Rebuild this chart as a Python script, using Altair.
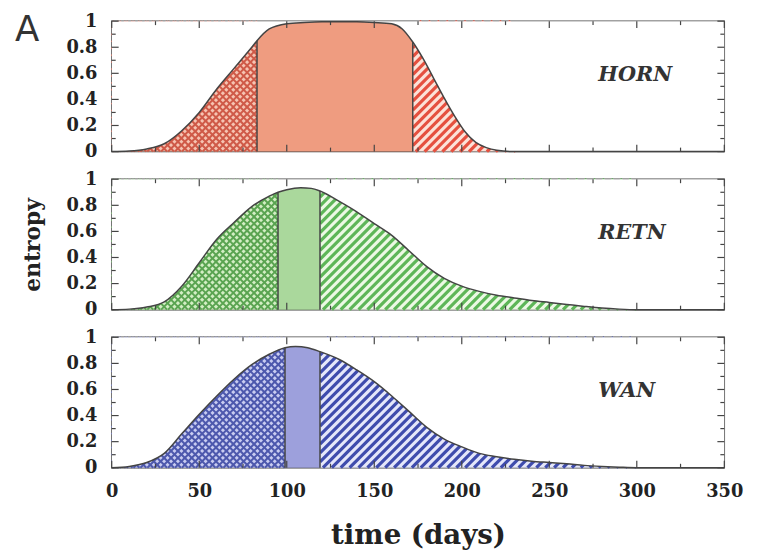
import altair as alt
import pandas as pd

# ---------------- data ----------------
HORN_DAYS = [0, 10, 20, 30, 40, 50, 60, 70, 80, 83, 90, 100, 110, 120, 130, 140, 150, 160, 166, 172, 178, 184, 190, 196, 202, 208, 214, 220, 230, 350]
HORN_VALS = [0.0, 0.004, 0.02, 0.06, 0.16, 0.30, 0.48, 0.64, 0.80, 0.85, 0.94, 0.98, 0.99, 0.995, 0.995, 0.995, 0.99, 0.98, 0.94, 0.84, 0.71, 0.56, 0.41, 0.27, 0.15, 0.07, 0.03, 0.01, 0.0, 0.0]
HORN_SPLIT = [83, 172]

RETN_DAYS = [0, 10, 20, 30, 40, 50, 60, 70, 80, 90, 95, 100, 108, 114, 119, 130, 140, 150, 160, 170, 180, 190, 200, 210, 220, 230, 240, 250, 260, 270, 280, 290, 300, 350]
RETN_VALS = [0.0, 0.004, 0.02, 0.06, 0.18, 0.36, 0.54, 0.67, 0.79, 0.87, 0.90, 0.92, 0.935, 0.93, 0.91, 0.83, 0.75, 0.66, 0.57, 0.45, 0.33, 0.24, 0.18, 0.14, 0.11, 0.09, 0.07, 0.055, 0.04, 0.025, 0.012, 0.004, 0.0, 0.0]
RETN_SPLIT = [95, 119]

WAN_DAYS = [0, 10, 20, 30, 40, 50, 60, 70, 80, 90, 99, 105, 112, 119, 130, 140, 150, 160, 170, 180, 190, 200, 210, 220, 230, 240, 250, 260, 270, 280, 290, 300, 350]
WAN_VALS = [0.0, 0.01, 0.04, 0.11, 0.26, 0.41, 0.55, 0.68, 0.79, 0.87, 0.92, 0.93, 0.92, 0.89, 0.83, 0.75, 0.66, 0.55, 0.43, 0.31, 0.22, 0.16, 0.11, 0.085, 0.065, 0.05, 0.04, 0.03, 0.018, 0.01, 0.004, 0.0, 0.0]
WAN_SPLIT = [99, 119]

NAMES = ["HORN", "RETN", "WAN"]

X_MAJOR = [0, 50, 100, 150, 200, 250, 300, 350]
X_MINOR = [25, 75, 125, 175, 225, 275, 325]
Y_MAJOR = [0, 0.2, 0.4, 0.6, 0.8, 1.0]
Y_MINOR = [0.1, 0.3, 0.5, 0.7, 0.9]

COLORS = {
    "HORN": dict(cross_bg="#f6c4b2", cross="#cf5a48", stripe_bg="#fce2d8", stripe="#e5503f", mid="#ef9c80"),
    "RETN": dict(cross_bg="#d3eec4", cross="#5aa451", stripe_bg="#ecf9e4", stripe="#5eb658", mid="#aad89c"),
    "WAN":  dict(cross_bg="#c9ccf1", cross="#4d58ad", stripe_bg="#e5e7fa", stripe="#3f4cad", mid="#9da0dc"),
}

W, H = 620, 132
XMAX = 350
LINE_C = "#444444"
FONT = "DejaVu Serif"

xscale = alt.Scale(domain=[0, XMAX], nice=False, zero=False)
yscale = alt.Scale(domain=[0, 1], nice=False, zero=False)


def hatch(a, b, period_px, direction):
    """Diagonal 45deg pattern lines (in data units) filling the band a..b."""
    L = H * XMAX / W
    p = period_px * XMAX / W
    rows = []
    x0 = a - L
    while x0 < b:
        lo, hi = max(a, x0), min(b, x0 + L)
        if hi > lo:
            if direction > 0:
                v1, v2 = (lo - x0) / L, (hi - x0) / L
            else:
                v1, v2 = 1 - (lo - x0) / L, 1 - (hi - x0) / L
            rows.append(dict(d1=lo, v1=v1, d2=hi, v2=v2))
        x0 += p
    return pd.DataFrame(rows)


def panel(name, days, vals, split, bottom, ytitle, letter):
    c = COLORS[name]
    a, b = split
    df = pd.DataFrame({"day": days, "v": vals})
    df["top"] = 1.0
    df["zero"] = 0.0
    mid = df[(df.day >= a) & (df.day <= b)]
    left = df[df.day <= a]
    right = df[df.day >= b]
    end = max(d for d, v in zip(days, vals) if v > 0) + 10

    xaxis = alt.Axis(values=X_MAJOR, format="d", ticks=False, domain=False, grid=False, labelFlush=False,
                     labelFont=FONT, labelFontWeight="bold", labelFontSize=18, labelColor="#222",
                     labelPadding=15, title="time (days)", titleFont=FONT, titleFontWeight="bold",
                     titleFontSize=28, titleColor="#222", titlePadding=22) if bottom else None
    yaxis = alt.Axis(values=Y_MAJOR, format=".1~f", ticks=False, domain=False, grid=False, labelFlush=False,
                     labelFont=FONT, labelFontWeight="bold", labelFontSize=18, labelColor="#222",
                     labelPadding=15, title=ytitle, titleFont=FONT, titleFontWeight="bold",
                     titleFontSize=22, titleColor="#222", titlePadding=22)

    def X(f):
        return alt.X(f"{f}:Q", scale=xscale, axis=xaxis)

    def Y(f):
        return alt.Y(f"{f}:Q", scale=yscale, axis=yaxis)

    layers = []
    layers.append(alt.Chart(left).mark_area(color=c["cross_bg"], interpolate="monotone").encode(x=X("day"), y=Y("v")))
    layers.append(alt.Chart(right).mark_area(color=c["stripe_bg"], interpolate="monotone").encode(x=X("day"), y=Y("v")))
    for d in (1, -1):
        layers.append(alt.Chart(hatch(0, a, 7, d)).mark_rule(color=c["cross"], strokeWidth=2.0).encode(
            x=X("d1"), y=Y("v1"), x2="d2", y2="v2"))
    layers.append(alt.Chart(hatch(b, end, 9, 1)).mark_rule(color=c["stripe"], strokeWidth=3.2).encode(
        x=X("d1"), y=Y("v1"), x2="d2", y2="v2"))
    layers.append(alt.Chart(mid).mark_area(color=c["mid"], interpolate="monotone").encode(x=X("day"), y=Y("v")))
    layers.append(alt.Chart(df).mark_area(color="white", interpolate="monotone").encode(x=X("day"), y=Y("v"), y2="top"))
    layers.append(alt.Chart(df).mark_line(color=LINE_C, strokeWidth=1.5, interpolate="monotone").encode(x=X("day"), y=Y("v")))
    splits = df[df.day.isin(split)]
    layers.append(alt.Chart(splits).mark_rule(color=LINE_C, strokeWidth=1.5).encode(x=X("day"), y=Y("v"), y2="zero"))
    for vals_, ln in ((X_MAJOR, 7), (X_MINOR, 4)):
        tdf = pd.DataFrame({"t": vals_})
        layers.append(alt.Chart(tdf).mark_rule(color=LINE_C, strokeWidth=1.2).encode(
            x=X("t"), y=alt.value(H), y2=alt.value(H - ln)))
        layers.append(alt.Chart(tdf).mark_rule(color=LINE_C, strokeWidth=1.2).encode(
            x=X("t"), y=alt.value(0), y2=alt.value(ln)))
    for vals_, ln in ((Y_MAJOR, 7), (Y_MINOR, 4)):
        tdf = pd.DataFrame({"t": vals_})
        layers.append(alt.Chart(tdf).mark_rule(color=LINE_C, strokeWidth=1.2).encode(
            y=Y("t"), x=alt.value(0), x2=alt.value(ln)))
        layers.append(alt.Chart(tdf).mark_rule(color=LINE_C, strokeWidth=1.2).encode(
            y=Y("t"), x=alt.value(W), x2=alt.value(W - ln)))
    lab = pd.DataFrame({"day": [278], "v": [0.585], "label": [name]})
    layers.append(alt.Chart(lab).mark_text(align="left", baseline="middle", font=FONT, fontStyle="italic",
                                           fontWeight="bold", fontSize=21, color="#333").encode(
        x=X("day"), y=Y("v"), text="label:N"))
    if letter:
        ldf = pd.DataFrame({"t": [letter]})
        layers.append(alt.Chart(ldf).mark_text(align="left", baseline="top", font="DejaVu Sans",
                                               fontSize=36, color="#333").encode(
            x=alt.value(-98), y=alt.value(-8), text="t:N"))
    return alt.layer(*layers).properties(width=W, height=H)


p1 = panel("HORN", HORN_DAYS, HORN_VALS, HORN_SPLIT, False, None, "A")
p2 = panel("RETN", RETN_DAYS, RETN_VALS, RETN_SPLIT, False, "entropy", None)
p3 = panel("WAN", WAN_DAYS, WAN_VALS, WAN_SPLIT, True, None, None)

chart = alt.vconcat(p1, p2, p3, spacing=28, bounds="flush").properties(
    padding={"left": 6, "top": 0, "right": 5, "bottom": 0}
).configure_view(stroke=LINE_C, strokeWidth=1.5)

chart.save("out.html", embed_options={"renderer": "svg", "actions": False})
